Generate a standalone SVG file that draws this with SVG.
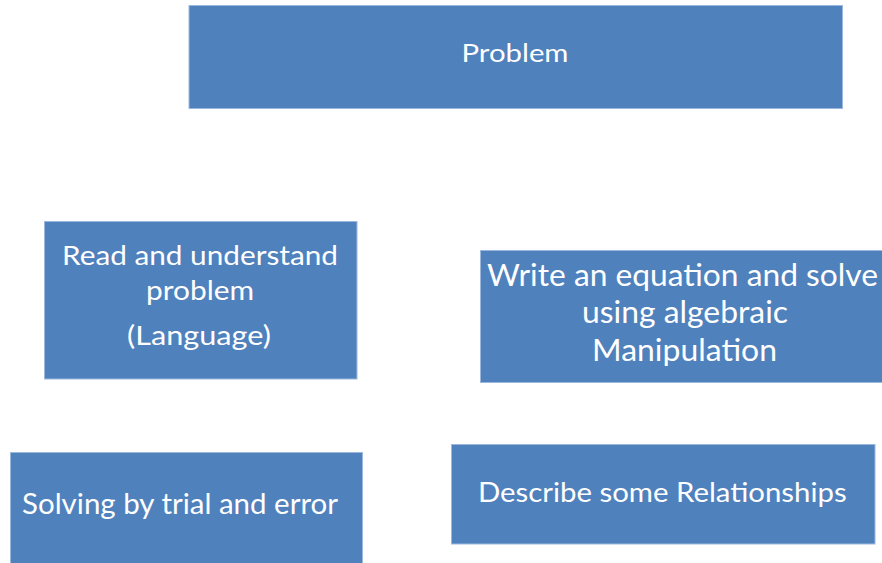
<svg xmlns="http://www.w3.org/2000/svg" width="882" height="563" viewBox="0 0 882 563">
<style>
.box{fill:#4F81BD;stroke:#9DB8DD;stroke-width:1}
.t{font-family:Lato,"Open Sans","Liberation Sans",sans-serif;fill:#FFFFFF;text-anchor:middle}
</style>
<rect width="882" height="563" fill="#FFFFFF"/>
<g id="connectors"></g>
<g id="problem">
<rect class="box" x="189" y="5.5" width="653.5" height="103"/>
<text class="t" x="515" y="62.3" font-size="25" textLength="107" lengthAdjust="spacingAndGlyphs">Problem</text>
</g>
<g id="read">
<rect class="box" x="44.5" y="221.5" width="312.5" height="157.5"/>
<text class="t" x="200" y="265" font-size="26.5" textLength="276" lengthAdjust="spacingAndGlyphs">Read and understand</text>
<text class="t" x="200" y="300" font-size="26.5" textLength="108" lengthAdjust="spacingAndGlyphs">problem</text>
<text class="t" x="199" y="345" font-size="26.5" textLength="144" lengthAdjust="spacingAndGlyphs">(Language)</text>
</g>
<g id="write">
<rect class="box" x="480.5" y="250.5" width="405" height="132"/>
<text class="t" x="682.5" y="286" font-size="30.5" textLength="391" lengthAdjust="spacingAndGlyphs">Write an equation and solve</text>
<text class="t" x="685" y="323" font-size="30.5" textLength="206" lengthAdjust="spacingAndGlyphs">using algebraic</text>
<text class="t" x="684.5" y="360.7" font-size="30.5" textLength="185" lengthAdjust="spacingAndGlyphs">Manipulation</text>
</g>
<g id="trial">
<rect class="box" x="10.5" y="452.5" width="352" height="115"/>
<text class="t" x="180" y="514" font-size="29" textLength="316" lengthAdjust="spacingAndGlyphs">Solving by trial and error</text>
</g>
<g id="describe">
<rect class="box" x="451.5" y="444.5" width="423.5" height="99.5"/>
<text class="t" x="662.3" y="501.7" font-size="27" textLength="368.7" lengthAdjust="spacingAndGlyphs">Describe some Relationships</text>
</g>
</svg>
